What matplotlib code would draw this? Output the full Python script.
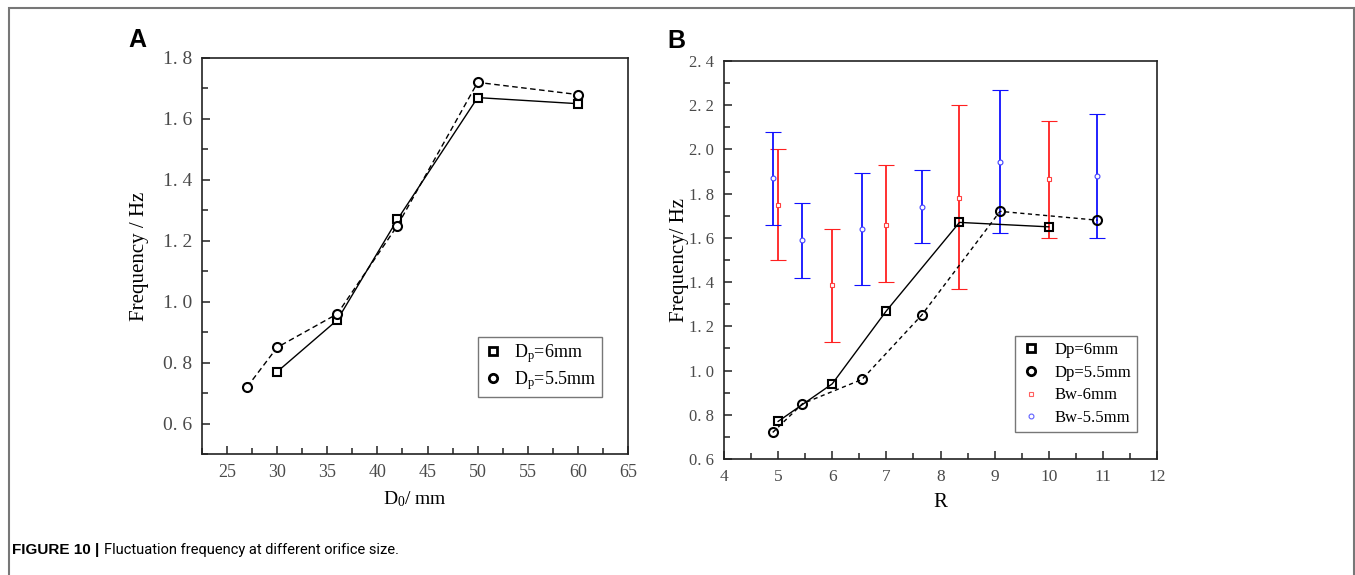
import numpy as np
import matplotlib.pyplot as plt
from matplotlib.ticker import FixedLocator, MultipleLocator
from matplotlib.patches import Rectangle
from matplotlib.lines import Line2D

plt.rcParams['font.family'] = ['Liberation Serif', 'DejaVu Serif']
plt.rcParams['mathtext.fontset'] = 'custom'
plt.rcParams['mathtext.rm'] = 'Liberation Serif'
plt.rcParams['mathtext.it'] = 'Liberation Serif'

# panel A data
a_x6 = [30, 36, 42, 50, 60]
a_y6 = [0.77, 0.94, 1.27, 1.67, 1.65]
a_x55 = [27, 30, 36, 42, 50, 60]
a_y55 = [0.72, 0.85, 0.96, 1.25, 1.72, 1.68]
a_xticks = [25, 30, 35, 40, 45, 50, 55, 60, 65]
a_yticks = [0.6, 0.8, 1.0, 1.2, 1.4, 1.6, 1.8]
a_ylabels = ["0. 6", "0. 8", "1. 0", "1. 2", "1. 4", "1. 6", "1. 8"]

# panel B data
b_x6 = [5, 6, 7, 8.35, 10]
b_y6 = [0.77, 0.94, 1.27, 1.67, 1.65]
b_x55 = [4.9, 5.45, 6.55, 7.65, 9.1, 10.9]
b_y55 = [0.72, 0.85, 0.96, 1.25, 1.72, 1.68]
bw6_x = [5, 6, 7, 8.35, 10]
bw6_mid = [1.75, 1.385, 1.66, 1.78, 1.865]
bw6_lo = [1.50, 1.13, 1.40, 1.37, 1.60]
bw6_hi = [2.00, 1.64, 1.93, 2.20, 2.13]
bw55_x = [4.9, 5.45, 6.55, 7.65, 9.1, 10.9]
bw55_mid = [1.87, 1.59, 1.64, 1.74, 1.945, 1.88]
bw55_lo = [1.66, 1.42, 1.385, 1.575, 1.62, 1.60]
bw55_hi = [2.08, 1.76, 1.895, 1.905, 2.27, 2.16]
b_xticks = [4, 5, 6, 7, 8, 9, 10, 11, 12]
b_yticks = [0.6, 0.8, 1.0, 1.2, 1.4, 1.6, 1.8, 2.0, 2.2, 2.4]
b_ylabels = ["0. 6", "0. 8", "1. 0", "1. 2", "1. 4", "1. 6", "1. 8", "2. 0", "2. 2", "2. 4"]

tick_color = "#4a4a4a"

fig = plt.figure(figsize=(13.55, 5.75), dpi=100)
fig.patches.append(Rectangle((9 / 1355, -0.05), 1345 / 1355, 1.05 - 8 / 575, transform=fig.transFigure,
                             fill=False, edgecolor="#777777", linewidth=1.5))


def style(ax, ysize, xsize):
    ax.tick_params(which="both", direction="in", top=False, right=False,
                   colors="#222222", labelcolor=tick_color, width=1.1)
    ax.tick_params(axis="y", labelsize=ysize)
    ax.tick_params(axis="x", labelsize=xsize)
    ax.tick_params(which="major", length=6, pad=7)
    ax.tick_params(which="minor", length=4)
    for s in ax.spines.values():
        s.set_linewidth(1.2)
        s.set_color("#222222")


def mk(marker, ms, mec, mew):
    return Line2D([], [], ls="none", marker=marker, ms=ms, mfc="white", mec=mec, mew=mew)


# --- panel A
ax = fig.add_axes([202 / 1355, (575 - 454) / 575, 426 / 1355, 396 / 575])
ax.plot(a_x6, a_y6, color="k", lw=1, marker="s", ms=6, mfc="white", mec="k", mew=1.5)
ax.plot(a_x55, a_y55, color="k", lw=1, ls=(0, (4, 2.5)), marker="o", ms=6.5, mfc="white", mec="k", mew=1.5)
ax.set_xlim(22.5, 65)
ax.set_ylim(0.5, 1.8)
ax.set_xticks(a_xticks)
ax.xaxis.set_minor_locator(MultipleLocator(2.5))
ax.yaxis.set_major_locator(FixedLocator(a_yticks))
ax.set_yticklabels(a_ylabels)
ax.yaxis.set_minor_locator(MultipleLocator(0.1))
style(ax, 14, 13)
ax.set_xlabel(r"D$_\mathregular{0}$/ mm", fontsize=14, labelpad=6)
ax.set_ylabel("Frequency / Hz", fontsize=15)
ax.yaxis.set_label_coords(-0.124, 0.5)
ax.legend([mk("s", 5.5, "k", 2), mk("o", 6, "k", 2)],
          [r"D$_\mathregular{p}$=6mm", r"D$_\mathregular{p}$=5.5mm"],
          loc="lower right", bbox_to_anchor=(0.939, 0.144), borderaxespad=0, fontsize=13,
          frameon=True, fancybox=False, edgecolor="#777777", framealpha=1,
          handlelength=1.0, handletextpad=0.7, borderpad=0.3, labelspacing=0.2)
fig.text(128 / 1355, 1 - 40 / 575, "A", fontsize=18, fontweight="bold", family="Liberation Sans", va="center")

# --- panel B
bx = fig.add_axes([724 / 1355, (575 - 459) / 575, 433 / 1355, 398 / 575])
bx.errorbar(bw6_x, bw6_mid, yerr=[np.subtract(bw6_mid, bw6_lo), np.subtract(bw6_hi, bw6_mid)],
            fmt="s", ms=3.5, mfc="white", mec="#ff4040", mew=0.8, ecolor="#ff2020", elinewidth=1.3,
            capsize=6, capthick=1.3, zorder=2)
bx.errorbar(bw55_x, bw55_mid, yerr=[np.subtract(bw55_mid, bw55_lo), np.subtract(bw55_hi, bw55_mid)],
            fmt="o", ms=3.5, mfc="white", mec="#4040ff", mew=0.8, ecolor="#1010ff", elinewidth=1.3,
            capsize=6, capthick=1.3, zorder=2)
bx.plot(b_x6, b_y6, color="k", lw=1, marker="s", ms=6, mfc="none", mec="k", mew=1.5, zorder=3)
bx.plot(b_x55, b_y55, color="k", lw=1, ls=(0, (3, 2.5)), marker="o", ms=6.5, mfc="none", mec="k",
        mew=1.5, zorder=3)
bx.set_xlim(4, 12)
bx.set_ylim(0.6, 2.4)
bx.set_xticks(b_xticks)
bx.xaxis.set_minor_locator(MultipleLocator(0.5))
bx.yaxis.set_major_locator(FixedLocator(b_yticks))
bx.set_yticklabels(b_ylabels)
bx.yaxis.set_minor_locator(MultipleLocator(0.1))
style(bx, 12, 12.5)
bx.set_xlabel("R", fontsize=15, labelpad=6)
bx.set_ylabel("Frequency/ Hz", fontsize=15)
bx.yaxis.set_label_coords(-0.081, 0.5)
bx.legend([mk("s", 5.5, "k", 2), mk("o", 6, "k", 2), mk("s", 3.5, "#ff6060", 0.8), mk("o", 3.5, "#6060ff", 0.8)],
          ["Dp=6mm", "Dp=5.5mm", "Bw-6mm", "Bw-5.5mm"],
          loc="lower right", bbox_to_anchor=(0.954, 0.068), borderaxespad=0, fontsize=12,
          frameon=True, fancybox=False, edgecolor="#777777", framealpha=1,
          handlelength=1.2, handletextpad=0.8, borderpad=0.35, labelspacing=0.4)
fig.text(667 / 1355, 1 - 41 / 575, "B", fontsize=18, fontweight="bold", family="Liberation Sans", va="center")

# caption
fig.text(12 / 1355, 1 - 550 / 575, "FIGURE 10 |", fontsize=11, fontweight="bold",
         family="Liberation Sans", va="center")
fig.text(104 / 1355, 1 - 550 / 575, "Fluctuation frequency at different orifice size.", fontsize=10.5,
         family=["Roboto", "Liberation Sans"], va="center")

fig.savefig("out.png", dpi=100)
